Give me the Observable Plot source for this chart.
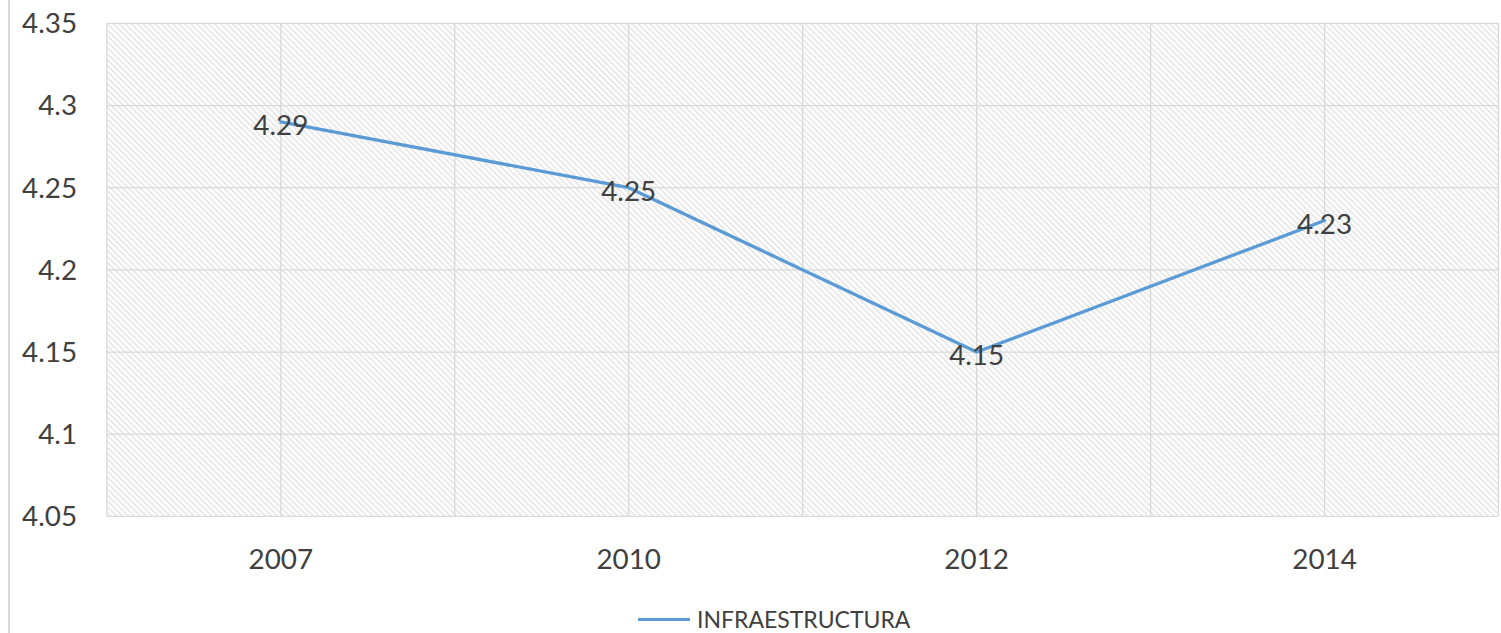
<!DOCTYPE html>
<html><head><meta charset="utf-8">
<script src="https://cdn.jsdelivr.net/npm/d3@7"></script>
<script src="https://cdn.jsdelivr.net/npm/@observablehq/plot@0.6"></script>
<style>
html,body{margin:0;padding:0;background:#fff;overflow:hidden;width:1501px;height:633px;}
#wrap{position:relative;width:1501px;height:633px;font-family:Lato,sans-serif;color:#404040;overflow:hidden}
#chart{position:absolute;left:0;top:0}
#border{position:absolute;left:8px;top:0;width:2px;height:633px;background:#d9d9d9}
#legend{position:absolute;left:638px;top:605px;display:flex;align-items:center;white-space:nowrap}
#legend .sw{display:inline-block;width:52px;height:3px;background:#5B9BD5;margin-right:7px}
#legend .lb{font-size:23px;line-height:28px;color:#404040}
</style>
</head><body>
<div id="wrap"><div id="border"></div><div id="chart"></div><div id="legend"></div></div>
<script>
const years = ["2007", "2010", "2012", "2014"];
const values = [4.29, 4.25, 4.15, 4.23];
const valueLabels = ["4.29", "4.25", "4.15", "4.23"];
const yTicks = [4.05, 4.1, 4.15, 4.2, 4.25, 4.3, 4.35];
const seriesName = "INFRAESTRUCTURA";

const data = years.map((year, i) => ({i, year, value: values[i], label: valueLabels[i]}));
const idx = years.map((_, i) => i);
const bounds = d3.range(years.length + 1).map(i => i - 0.5);
const fmtY = d => String(+d.toFixed(2));

const chart = Plot.plot({
  width: 1510,
  height: 600,
  marginLeft: 107,
  marginRight: 3,
  marginTop: 23,
  marginBottom: 81,
  style: {fontFamily: "Lato, sans-serif", fontSize: "28px", color: "#404040", background: "transparent"},
  x: {domain: [bounds[0], bounds[bounds.length - 1]], axis: null},
  y: {domain: [yTicks[0], yTicks[yTicks.length - 1]], axis: null},
  marks: [
    Plot.frame({fill: "#fff", stroke: null}),
    Plot.ruleY(yTicks, {stroke: "#d9d9d9", strokeOpacity: 1, strokeWidth: 1.3}),
    Plot.ruleX(bounds, {stroke: "#d9d9d9", strokeOpacity: 1, strokeWidth: 1.3}),
    Plot.ruleX(idx, {stroke: "#d9d9d9", strokeOpacity: 1, strokeWidth: 1.3}),
    // y tick labels
    Plot.text(yTicks, {y: d => d, text: fmtY, frameAnchor: "left", textAnchor: "end", dx: -30, dy: 1, fontSize: 28, fill: "#404040"}),
    // x tick labels
    Plot.text(data, {x: "i", text: "year", frameAnchor: "bottom", lineAnchor: "top", dy: 33, fontSize: 28, fill: "#404040"}),
    Plot.line(data, {x: "i", y: "value", stroke: "#5B9BD5", strokeWidth: 3.3}),
    Plot.text(data, {x: "i", y: "value", text: "label", fontSize: 28, fill: "#404040", dy: 4.5})
  ]
});

// hatch pattern background for the plot frame
const svgNode = chart.tagName.toLowerCase() === "svg" ? chart : chart.querySelector("svg");
const svg = d3.select(svgNode);
const frameEls = Array.from(svgNode.querySelectorAll('[aria-label="frame"]'));
const pat = svg.insert("defs", ":first-child").append("pattern")
  .attr("id", "hatchbg").attr("patternUnits", "userSpaceOnUse")
  .attr("width", 6).attr("height", 6);
pat.append("rect").attr("width", 6).attr("height", 6).attr("fill", "#fff");
pat.append("path").attr("d", "M-1,-1L7,7M-1,5L1,7M5,-1L7,1")
  .attr("stroke", "#e2e2e2").attr("stroke-width", 1.5);
frameEls.forEach(el => {
  el.setAttribute("fill", "url(#hatchbg)");
  el.querySelectorAll("rect").forEach(r => r.setAttribute("fill", "url(#hatchbg)"));
});

document.getElementById("chart").appendChild(chart);

const lg = document.getElementById("legend");
lg.innerHTML = `<span class="sw"></span><span class="lb">${seriesName}</span>`;
</script>
</body></html>
